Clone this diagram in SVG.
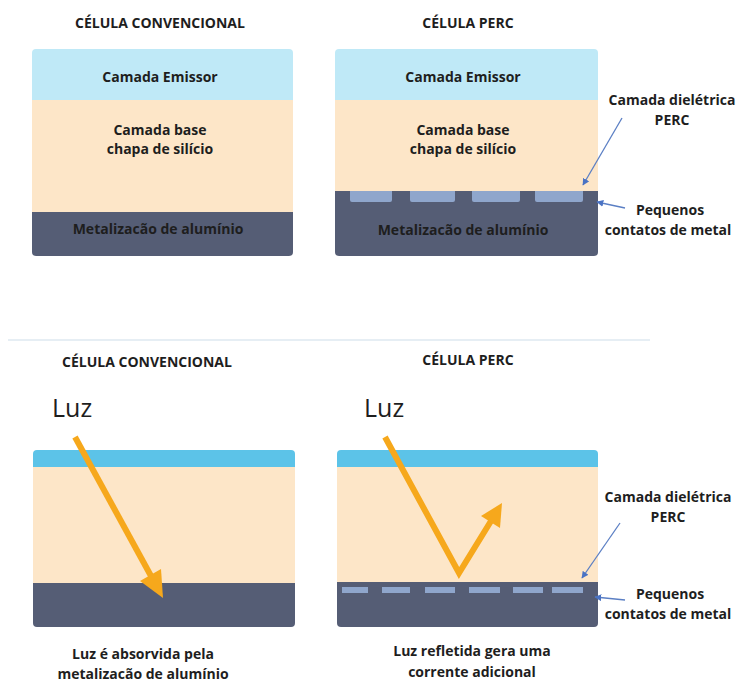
<svg xmlns="http://www.w3.org/2000/svg" width="738" height="683" viewBox="0 0 738 683">
<defs>
<style>
text{font-family:"Open Sans","Liberation Sans",Arial,sans-serif;fill:#1e1e1e;text-anchor:middle}
.t{font-size:14px;font-weight:bold}
.l{font-size:14px;font-weight:bold}
.luz{font-size:25px;font-weight:normal;text-anchor:start}
.em1{fill:#bfe9f7}.em2{fill:#5cc3e8}.base{fill:#fde6c8}.met{fill:#555d75}.ct{fill:#8fa6cc}
.ptr{stroke:#5b7fc4;stroke-width:1.3;fill:none;marker-end:url(#pa)}
.ray{stroke:#f6a81c;stroke-width:6;fill:none;stroke-linejoin:miter}
.head{fill:#f6a81c}
</style>
<marker id="pa" viewBox="0 0 10 10" refX="9" refY="5" markerWidth="7" markerHeight="7" markerUnits="userSpaceOnUse" orient="auto">
<path d="M0,0 L10,5 L0,10 Z" fill="#4a73c4"/>
</marker>
<clipPath id="c1"><rect x="32" y="49" width="261" height="207" rx="4"/></clipPath>
<clipPath id="c2"><rect x="335" y="49" width="263" height="207" rx="4"/></clipPath>
<clipPath id="c3"><rect x="33" y="450" width="262" height="177" rx="4"/></clipPath>
<clipPath id="c4"><rect x="337" y="450" width="261" height="177" rx="4"/></clipPath>
</defs>
<rect width="738" height="683" fill="#ffffff"/>

<g id="cell-conv-top">
<text class="t" x="160" y="28">CÉLULA CONVENCIONAL</text>
<g clip-path="url(#c1)">
<rect class="em1" x="32" y="49" width="261" height="51"/>
<rect class="base" x="32" y="100" width="261" height="112"/>
<rect class="met" x="32" y="212" width="261" height="44"/>
</g>
<text class="l" x="160" y="82">Camada Emissor</text>
<text class="l" x="160" y="135">Camada base</text>
<text class="l" x="160" y="154">chapa de silício</text>
<text class="l" x="158" y="234">Metalizacão de alumínio</text>
</g>

<g id="cell-perc-top">
<text class="t" x="468" y="28">CÉLULA PERC</text>
<g clip-path="url(#c2)">
<rect class="em1" x="335" y="49" width="263" height="51"/>
<rect class="base" x="335" y="100" width="263" height="91"/>
<rect class="met" x="335" y="191" width="263" height="65"/>
</g>
<path class="ct" d="M350,191 H392 V200 Q392,202 390,202 H352 Q350,202 350,200 Z"/>
<path class="ct" d="M410,191 H455 V200 Q455,202 453,202 H412 Q410,202 410,200 Z"/>
<path class="ct" d="M472,191 H520 V200 Q520,202 518,202 H474 Q472,202 472,200 Z"/>
<path class="ct" d="M535,191 H583 V200 Q583,202 581,202 H537 Q535,202 535,200 Z"/>
<text class="l" x="463" y="82">Camada Emissor</text>
<text class="l" x="463" y="135">Camada base</text>
<text class="l" x="463" y="154">chapa de silício</text>
<text class="l" x="463" y="235">Metalizacão de alumínio</text>
</g>

<g id="label-diel-top">
<text class="l" x="672" y="105">Camada dielétrica</text>
<text class="l" x="672" y="125">PERC</text>
</g>
<g id="label-cont-top">
<text class="l" x="670" y="215">Pequenos</text>
<text class="l" x="668" y="235">contatos de metal</text>
</g>

<line id="separator" x1="8" y1="340" x2="650" y2="340" stroke="#e6eef4" stroke-width="2"/>

<g id="cell-conv-bottom">
<text class="t" x="147" y="367">CÉLULA CONVENCIONAL</text>
<text class="luz" x="52" y="417">Luz</text>
<g clip-path="url(#c3)">
<rect class="em2" x="33" y="450" width="262" height="17"/>
<rect class="base" x="33" y="467" width="262" height="116"/>
<rect class="met" x="33" y="583" width="262" height="44"/>
</g>
<text class="l" x="143" y="659">Luz é absorvida pela</text>
<text class="l" x="143" y="679">metalizacão de alumínio</text>
</g>

<g id="cell-perc-bottom">
<text class="t" x="468" y="365">CÉLULA PERC</text>
<text class="luz" x="364" y="417">Luz</text>
<g clip-path="url(#c4)">
<rect class="em2" x="337" y="450" width="261" height="17"/>
<rect class="base" x="337" y="467" width="261" height="115"/>
<rect class="met" x="337" y="582" width="261" height="45"/>
</g>
<g class="ct">
<rect x="342" y="587" width="26" height="6"/>
<rect x="382" y="587" width="28" height="6"/>
<rect x="425" y="587" width="30" height="6"/>
<rect x="469" y="587" width="31" height="6"/>
<rect x="513" y="587" width="30" height="6"/>
<rect x="552" y="587" width="31" height="6"/>
</g>
<text class="l" x="472" y="656">Luz refletida gera uma</text>
<text class="l" x="472" y="677">corrente adicional</text>
</g>

<g id="label-diel-bottom">
<text class="l" x="668" y="502">Camada dielétrica</text>
<text class="l" x="668" y="522">PERC</text>
</g>
<g id="label-cont-bottom">
<text class="l" x="670" y="599">Pequenos</text>
<text class="l" x="668" y="619">contatos de metal</text>
</g>

<g id="connectors">
<line class="ptr" x1="622" y1="118" x2="583" y2="185"/>
<line class="ptr" x1="625" y1="208" x2="597" y2="202"/>
<line class="ptr" x1="620" y1="523" x2="582" y2="578"/>
<line class="ptr" x1="625" y1="600" x2="595" y2="597"/>
<line class="ray" x1="75" y1="437" x2="151" y2="576"/>
<polygon class="head" points="163,598 140,581 161,569"/>
<polyline class="ray" points="385,437 459,573 491,521"/>
<polygon class="head" points="502,503 500,528 481,516"/>
</g>
</svg>
